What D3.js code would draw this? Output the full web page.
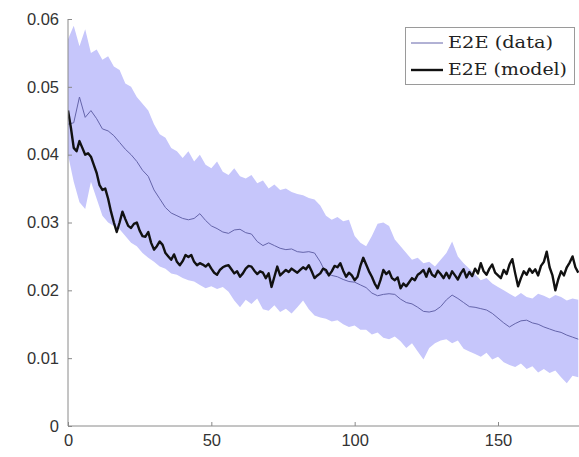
<!DOCTYPE html>
<html>
<head>
<meta charset="utf-8">
<script src="https://cdn.jsdelivr.net/npm/d3@7"></script>
<style>
  body { margin: 0; background: #fff; }
  svg { display: block; }
</style>
</head>
<body>
<div id="chart"></div>
<script>
// values in units of 1e-3
const modelValues = [46.5,44,41,40.5,42,41,40,40.2,39.7,38.5,37.3,35.5,34.8,35,33.5,31.6,30,28.6,30,31.6,
  30.5,29.5,29.2,29.8,30,28.8,28,27.9,28.6,27,26,26.5,27.2,26.7,25.5,25,24.5,25.3,24.2,23.7,
  24.3,25.2,24.9,25.2,24.2,23.7,24,23.8,23.5,23.9,23.2,22.6,22.3,23,23.4,23.6,23.7,23.1,22.5,22.8,
  22,22.5,23.2,23.6,23.5,22.9,22.4,22.8,22.6,21.8,22.5,20.5,22,23.5,22.2,22.6,23,22.7,23.2,22.9,
  22.6,23,23.4,23.1,23.7,22.8,21.8,22.2,22.5,23.2,23,22.2,22.8,23.6,23.4,24,22.9,22,22.6,22.2,
  21.5,22,23.6,24.8,23.8,22.8,22,21,20.3,21.5,23,22.4,22.8,21.8,21.5,21.9,20.3,21,20.6,21.2,
  21.8,21.5,22.3,22.6,23,22,23.2,22.3,22,22.9,22.4,21.8,22.6,21.8,22.8,22.2,21.6,22.5,23.1,21.9,
  22.7,22.1,23.2,22.5,24,22.8,22.3,23.2,23.8,22.6,22.2,21.8,23,22.4,23.8,24.6,22.5,20.6,21.8,22.8,
  22.3,23.2,22.6,23.1,22.2,23.6,24.2,25.7,23.4,22.2,20,21.6,22.8,22.2,23.4,24.1,25,23.4,22.6];

// sampled every 2 iterations
const dataValues = [44.5,44.7,48.5,45.5,46.5,45.3,43.8,43.5,42.8,41.8,40.8,40,39,37.7,36.8,34.8,33.5,32.2,31.4,31,
  30.6,30.4,30.6,31.3,30.3,29.5,29.1,28.6,28.4,28.9,29,28.5,28.3,27.2,26.6,27,26.6,26.2,26,26.1,
  25.7,25.6,25.7,25.5,24.2,22.5,22.2,22,21.6,21.3,21.2,20.8,20.4,19.6,19.2,19.4,19.5,19.4,18.7,18.2,
  18,17.5,16.9,16.8,17,17.6,18.6,19.3,18.8,18.2,17.6,17.5,17.3,17.1,16.6,15.9,15.2,14.6,15.1,15.5,
  15.6,15.2,15,14.6,14.3,14,13.8,13.4,13.1,12.8];

const bandUpper = [57,59,56,58.5,55,55.5,54,54.5,53,52.5,50.5,50,48.5,47.5,46.5,44.5,43,42.5,41,40.5,
  39.5,40.5,39,40,38.5,38,39,37.5,37,38,36.8,36.5,37,35.8,36.2,35,35.6,34.8,35,34.5,
  34.2,34,33.6,33.4,32.5,31,30.4,30.8,30.2,30.4,28,27,26.5,28,29.8,30,29.5,27.5,26.5,25.5,
  24.5,24.8,24,24.2,23.5,24.5,25.5,27.2,25,24,23.2,22.4,21.5,21.8,21,20.5,20,19.5,19,19.6,
  19,18.8,19.5,19.2,18.8,19.3,19,18.5,18.8,18.6];

const bandLower = [40,36,33,32,36,33.5,31,30,29.5,29,28,27,26.5,25.5,24.8,24.2,23.5,23.2,22.5,22.3,
  21.8,21.5,21.3,20.8,20.3,20.6,20.2,20.5,19.8,18.5,17.5,18.6,18,18.8,17.2,17,17.8,16.8,17.3,16.6,
  17.5,18.5,17.2,16.3,16,15.8,15.4,15.6,15,14.6,14.8,14.2,14.2,13.5,13.8,13,12.8,13.2,12.5,11.5,
  12.2,11,9.8,11.5,12.2,12.6,12.8,12.2,12.6,11.4,11,10.6,10.2,10.8,9.8,10.2,9.4,9,8.7,9.2,
  8.4,8.8,7.9,8.4,7.8,8.2,7.2,6.3,7.4,7.2];

const xTicks = [0, 50, 100, 150];
const yTicks = [0, 0.01, 0.02, 0.03, 0.04, 0.05, 0.06];
const legendLabels = ["E2E (data)", "E2E (model)"];

const width = 579, height = 457;
const x = d3.scaleLinear().domain([0, 180]).range([68, 584]);
const y = d3.scaleLinear().domain([0, 0.06]).range([426, 19]);

const svg = d3.select("#chart").append("svg").attr("width", width).attr("height", height);

svg.append("defs").append("clipPath").attr("id", "plot")
  .append("rect").attr("x", 68).attr("y", 19).attr("width", width - 68).attr("height", 407);

const band = bandUpper.map((u, i) => ({ t: i * 2, hi: u / 1000, lo: bandLower[i] / 1000 }));
const plot = svg.append("g").attr("clip-path", "url(#plot)");

plot.append("path").datum(band)
  .attr("fill", "#c6c6fb")
  .attr("d", d3.area().x(d => x(d.t)).y0(d => y(d.lo)).y1(d => y(d.hi)));

plot.append("path").datum(dataValues.map((v, i) => [i * 2, v / 1000]))
  .attr("fill", "none").attr("stroke", "#6464aa").attr("stroke-width", 1)
  .attr("d", d3.line().x(d => x(d[0])).y(d => y(d[1])));

plot.append("path").datum(modelValues.map((v, i) => [i, v / 1000]))
  .attr("fill", "none").attr("stroke", "#111").attr("stroke-width", 2.4)
  .attr("stroke-linejoin", "round")
  .attr("d", d3.line().x(d => x(d[0])).y(d => y(d[1])));

// axes, MATLAB style: ticks inward
const xAxis = svg.append("g").attr("transform", "translate(0,426)")
  .call(d3.axisBottom(x).tickValues(xTicks).tickSize(-4).tickPadding(8).tickFormat(d3.format("d")));
const yAxis = svg.append("g").attr("transform", "translate(68,0)")
  .call(d3.axisLeft(y).tickValues(yTicks).tickSize(-4).tickPadding(9).tickFormat(d => d === 0 ? "0" : d3.format(".2f")(d)));

[xAxis, yAxis].forEach(a => {
  a.select(".domain").attr("stroke", "#8a8a8a");
  a.selectAll(".tick line").attr("stroke", "#8a8a8a");
  a.selectAll("text").attr("fill", "#333").style("font-family", "Liberation Sans, Arial, sans-serif").style("font-size", "16.5px");
});
xAxis.select(".domain").attr("d", "M68,0H579");
yAxis.select(".domain").attr("d", "M0,19V426");

// legend
const legend = svg.append("g");
legend.append("rect").attr("x", 405.5).attr("y", 27.5).attr("width", 169).attr("height", 57)
  .attr("fill", "#fff").attr("stroke", "#9a9a9a").attr("stroke-width", 1);
const legendStyles = [{ stroke: "#6464aa", w: 1, len: 105 }, { stroke: "#111", w: 2.4, len: 119 }];
legendLabels.forEach((label, i) => {
  const ly = 43 + i * 27;
  legend.append("line").attr("x1", 411).attr("x2", 443).attr("y1", ly).attr("y2", ly)
    .attr("stroke", legendStyles[i].stroke).attr("stroke-width", legendStyles[i].w);
  legend.append("text").attr("x", 448).attr("y", ly + 5).text(label)
    .attr("textLength", legendStyles[i].len).attr("lengthAdjust", "spacingAndGlyphs")
    .attr("fill", "#222").style("font-family", "DejaVu Serif, Liberation Serif, serif").style("font-size", "16px");
});
</script>
</body>
</html>
